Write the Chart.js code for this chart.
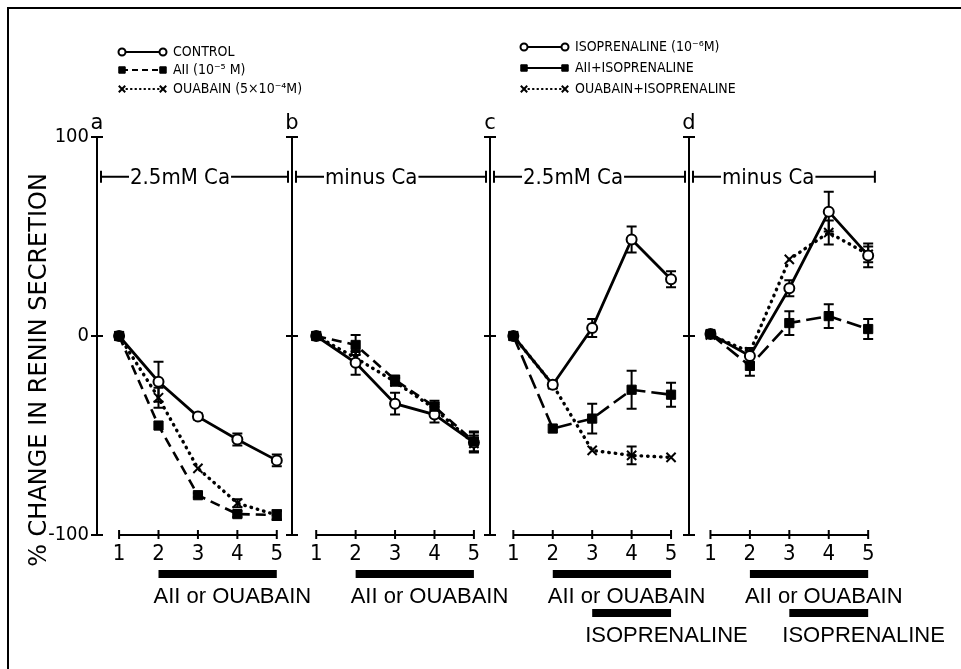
<!DOCTYPE html>
<html><head><meta charset="utf-8">
<script src="https://cdn.jsdelivr.net/npm/chart.js@4"></script>
<style>html,body{margin:0;padding:0;background:#fff;}canvas{display:block;}</style>
</head><body>
<canvas id="c" width="961" height="669"></canvas>
<script>
// ---------- data ----------
const panelLetters = ['a', 'b', 'c', 'd'];
const caLabels = ['2.5mM Ca', 'minus Ca', '2.5mM Ca', 'minus Ca'];
const times = [1, 2, 3, 4, 5];
const yTickValues = [-100, 0, 100];
const yTickLabels = ['-100', '0', '100'];
const treatmentLabel = 'AII or OUABAIN';
const treatmentStart = [2, 2, 2, 2];
const isoLabel = 'ISOPRENALINE';
const isoStart = [null, null, 3, 3];
const treatmentEnd = 5;

// panel a : 2.5 mM Ca
const aControl = [0, -23, -40.5, -52, -62.5];
const aControlErr = [0, 10, 1.5, 3, 3];
const aAII = [0, -45, -80, -89.5, -90];
const aAIIErr = [0, 0, 1, 1.5, 2.5];
const aOuabain = [0, -31, -66.5, -84, -90];
const aOuabainErr = [0, 5, 0, 2, 2.5];
// panel b : minus Ca
const bControl = [0, -13.5, -34, -39.5, -53.5];
const bControlErr = [0, 6, 5.5, 4, 5];
const bAII = [0, -4.5, -22, -35.5, -53];
const bAIIErr = [0, 5, 2, 3, 5];
const bOuabain = [0, -11, -23, -36.5, -54];
const bOuabainErr = [0, 3, 2, 3, 4];
// panel c : 2.5 mM Ca + isoprenaline
const cIso = [0, -24.5, 4, 48.5, 28.5];
const cIsoErr = [0, 1.5, 4.5, 6.5, 4];
const cAIIIso = [0, -46.5, -41.5, -27, -29.5];
const cAIIIsoErr = [0, 0, 7.5, 9.5, 6];
const cOuabIso = [0, -24.5, -57.5, -60, -61];
const cOuabIsoErr = [0, 0, 0, 4.5, 0];
// panel d : minus Ca + isoprenaline
const dIso = [1, -10, 24, 62.5, 40.5];
const dIsoErr = [0, 4, 4, 10, 6];
const dAIIIso = [1, -15, 6.5, 10, 3.5];
const dAIIIsoErr = [0, 5, 6, 6, 5];
const dOuabIso = [0.5, -8, 38.5, 52, 41];
const dOuabIsoErr = [0, 2, 0, 6, 4];

// ---------- styles ----------
const lineStyles = {
  solid: { dash: [], width: 2.8, cap: 'butt' },
  dash: { dash: [10, 6], width: 2.6, cap: 'butt' },
  longdash: { dash: [15, 6], width: 2.6, cap: 'butt' },
  dot: { dash: [0.5, 6], width: 3.4, cap: 'round' }
};
const markerStyles = {
  open: { pointStyle: 'circle', radius: 5, bg: '#fff', bw: 2 },
  square: { pointStyle: 'rect', radius: 6.5, bg: '#000', bw: 1 },
  x: { pointStyle: 'crossRot', radius: 6.5, bg: '#000', bw: 2 }
};

// first series of each panel is drawn on top
const panels = [
  [
    { name: 'AII', values: aAII, err: aAIIErr, line: 'dash', marker: 'square' },
    { name: 'CONTROL', values: aControl, err: aControlErr, line: 'solid', marker: 'open' },
    { name: 'OUABAIN', values: aOuabain, err: aOuabainErr, line: 'dot', marker: 'x' }
  ],
  [
    { name: 'AII', values: bAII, err: bAIIErr, line: 'dash', marker: 'square' },
    { name: 'CONTROL', values: bControl, err: bControlErr, line: 'solid', marker: 'open' },
    { name: 'OUABAIN', values: bOuabain, err: bOuabainErr, line: 'dot', marker: 'x' }
  ],
  [
    { name: 'AII+ISOPRENALINE', values: cAIIIso, err: cAIIIsoErr, line: 'longdash', marker: 'square' },
    { name: 'ISOPRENALINE', values: cIso, err: cIsoErr, line: 'solid', marker: 'open' },
    { name: 'OUABAIN+ISOPRENALINE', values: cOuabIso, err: cOuabIsoErr, line: 'dot', marker: 'x' }
  ],
  [
    { name: 'AII+ISOPRENALINE', values: dAIIIso, err: dAIIIsoErr, line: 'longdash', marker: 'square' },
    { name: 'ISOPRENALINE', values: dIso, err: dIsoErr, line: 'solid', marker: 'open' },
    { name: 'OUABAIN+ISOPRENALINE', values: dOuabIso, err: dOuabIsoErr, line: 'dot', marker: 'x' }
  ]
];

const legendLeft = [
  { text: 'CONTROL', line: 'solid', marker: 'open' },
  { text: 'AII (10⁻⁵ M)', line: 'dash', marker: 'square' },
  { text: 'OUABAIN (5×10⁻⁴M)', line: 'dot', marker: 'x' }
];
const legendRight = [
  { text: 'ISOPRENALINE (10⁻⁶M)', line: 'solid', marker: 'open' },
  { text: 'AII+ISOPRENALINE', line: 'solid', marker: 'square' },
  { text: 'OUABAIN+ISOPRENALINE', line: 'dot', marker: 'x' }
];

// layout constants (x in axis units)
const panelWidth = 5;
const panelAxisX = [0.44, 5.385, 10.41, 15.45];
const lastBarEnd = 20.17;
const caLevel = 80;

const NARROW = "'Liberation Sans Narrow', 'DejaVu Sans Condensed', sans-serif";
const COND = "'DejaVu Sans Condensed', 'Liberation Sans Narrow', sans-serif";

// ---------- datasets ----------
const datasets = [];
panels.forEach((series, p) => {
  series.forEach(s => {
    const ls = lineStyles[s.line], ms = markerStyles[s.marker];
    datasets.push({
      label: s.name + ' ' + panelLetters[p],
      data: times.map((t, i) => ({ x: p * panelWidth + t, y: s.values[i] })),
      err: s.err,
      borderColor: '#000',
      borderWidth: ls.width,
      borderDash: ls.dash,
      borderCapStyle: ls.cap,
      tension: 0,
      fill: false,
      pointStyle: ms.pointStyle,
      pointRadius: ms.radius,
      pointBackgroundColor: ms.bg,
      pointBorderColor: '#000',
      pointBorderWidth: ms.bw,
      clip: false
    });
  });
});

const xTickValues = [];
panels.forEach((_, p) => times.forEach(t => xTickValues.push(p * panelWidth + t)));

function drawMarker(ctx, kind, x, y, scale) {
  const ms = markerStyles[kind];
  ctx.save();
  ctx.fillStyle = ms.bg; ctx.strokeStyle = '#000'; ctx.lineWidth = ms.bw; ctx.setLineDash([]);
  Chart.helpers.drawPoint(ctx, { pointStyle: ms.pointStyle, radius: ms.radius * scale, rotation: 0, borderWidth: ms.bw }, x, y);
  ctx.restore();
}

const decor = {
  id: 'decor',
  beforeDraw(chart) {
    const ctx = chart.ctx;
    ctx.save();
    ctx.fillStyle = '#fff'; ctx.fillRect(0, 0, chart.width, chart.height);
    ctx.strokeStyle = '#000'; ctx.lineWidth = 2;
    ctx.beginPath(); ctx.moveTo(8, 669); ctx.lineTo(8, 8); ctx.lineTo(961, 8); ctx.stroke();
    ctx.restore();
  },
  beforeDatasetsDraw(chart) {
    const { ctx } = chart; const xs = chart.scales.x, ys = chart.scales.y;
    ctx.save();
    ctx.strokeStyle = '#000'; ctx.fillStyle = '#000'; ctx.lineWidth = 2; ctx.setLineDash([]);
    const yTop = ys.getPixelForValue(100), yBot = ys.getPixelForValue(-100);
    panels.forEach((_, p) => {
      const ax = Math.round(xs.getPixelForValue(panelAxisX[p]));
      // vertical axis
      ctx.beginPath(); ctx.moveTo(ax, yTop); ctx.lineTo(ax, yBot); ctx.stroke();
      yTickValues.forEach(v => {
        const py = ys.getPixelForValue(v);
        ctx.beginPath(); ctx.moveTo(ax - 6, py); ctx.lineTo(ax + 6, py); ctx.stroke();
      });
      // horizontal time axis
      const x1 = xs.getPixelForValue(p * panelWidth + times[0]);
      const x5 = xs.getPixelForValue(p * panelWidth + times[times.length - 1]);
      ctx.beginPath(); ctx.moveTo(x1, yBot); ctx.lineTo(x5, yBot); ctx.stroke();
      times.forEach(t => {
        const px = xs.getPixelForValue(p * panelWidth + t);
        ctx.beginPath(); ctx.moveTo(px, yBot - 5); ctx.lineTo(px, yBot + 4); ctx.stroke();
      });
      // Ca bar
      const cy = ys.getPixelForValue(caLevel);
      const sx = ax + 4;
      const ex = p < 3 ? Math.round(xs.getPixelForValue(panelAxisX[p + 1])) - 4 : xs.getPixelForValue(lastBarEnd);
      ctx.font = '22px ' + COND;
      const tw = ctx.measureText(caLabels[p]).width;
      const tx = ax + 33;
      ctx.beginPath();
      ctx.moveTo(sx, cy - 6); ctx.lineTo(sx, cy + 6);
      ctx.moveTo(ex, cy - 6); ctx.lineTo(ex, cy + 6);
      ctx.moveTo(sx, cy); ctx.lineTo(tx - 1, cy);
      ctx.moveTo(tx + tw + 1, cy); ctx.lineTo(ex, cy);
      ctx.stroke();
      ctx.textBaseline = 'middle'; ctx.textAlign = 'left';
      ctx.fillText(caLabels[p], tx, cy + 1);
      // panel letter
      ctx.font = '21px DejaVu Sans'; ctx.textAlign = 'center'; ctx.textBaseline = 'alphabetic';
      ctx.fillText(panelLetters[p], ax, 129);
    });
    // error bars
    chart.data.datasets.forEach((ds, i) => {
      const meta = chart.getDatasetMeta(i);
      ds.err.forEach((e, j) => {
        if (!e) return;
        const pt = meta.data[j];
        const v = ds.data[j].y;
        const yHi = ys.getPixelForValue(v + e), yLo = ys.getPixelForValue(v - e);
        ctx.beginPath();
        ctx.moveTo(pt.x, yHi); ctx.lineTo(pt.x, yLo);
        ctx.moveTo(pt.x - 5, yHi); ctx.lineTo(pt.x + 5, yHi);
        ctx.moveTo(pt.x - 5, yLo); ctx.lineTo(pt.x + 5, yLo);
        ctx.stroke();
      });
    });
    ctx.restore();
  },
  afterDraw(chart) {
    const { ctx } = chart; const xs = chart.scales.x;
    ctx.save();
    ctx.fillStyle = '#000'; ctx.strokeStyle = '#000';
    // treatment bars
    panels.forEach((_, p) => {
      const bx1 = xs.getPixelForValue(p * panelWidth + treatmentStart[p]);
      const bx2 = xs.getPixelForValue(p * panelWidth + treatmentEnd);
      ctx.fillRect(bx1, 570, bx2 - bx1, 8);
      ctx.font = '22px "Liberation Sans", Arial, sans-serif';
      ctx.textAlign = 'left'; ctx.textBaseline = 'alphabetic';
      ctx.fillText(treatmentLabel, bx1 - 5, 603);
      if (isoStart[p] != null) {
        const ix1 = xs.getPixelForValue(p * panelWidth + isoStart[p]);
        ctx.fillRect(ix1, 609, bx2 - ix1, 8);
        ctx.fillText(isoLabel, ix1 - 7, 642);
      }
    });
    // y title
    ctx.save();
    ctx.translate(40, 370); ctx.rotate(-Math.PI / 2);
    ctx.font = '24px DejaVu Sans'; ctx.textAlign = 'center'; ctx.textBaseline = 'middle';
    ctx.fillText('% CHANGE IN RENIN SECRETION', 0, 0);
    ctx.restore();
    // legends
    const drawLegend = (items, lx1, lx2, tx, rows) => {
      items.forEach((it, k) => {
        const yy = rows[k];
        const ls = lineStyles[it.line];
        ctx.save();
        ctx.lineWidth = Math.min(ls.width, 2.2); ctx.setLineDash(it.line === 'dot' ? [0.5, 4] : (it.line === 'solid' ? [] : [6, 4]));
        ctx.lineCap = ls.cap;
        ctx.beginPath(); ctx.moveTo(lx1, yy); ctx.lineTo(lx2, yy); ctx.stroke();
        ctx.restore();
        drawMarker(ctx, it.marker, lx1, yy, 0.7);
        drawMarker(ctx, it.marker, lx2, yy, 0.7);
        ctx.font = '14px ' + COND; ctx.textAlign = 'left'; ctx.textBaseline = 'middle';
        ctx.fillText(it.text, tx, yy);
      });
    };
    drawLegend(legendLeft, 122, 163, 173, [52, 70, 89]);
    drawLegend(legendRight, 524, 565, 575, [47, 68, 89]);
    ctx.restore();
  }
};

new Chart(document.getElementById('c'), {
  type: 'line',
  data: { datasets },
  options: {
    responsive: false,
    animation: false,
    devicePixelRatio: 1,
    events: [],
    layout: { padding: { left: 30, top: 137, right: 81, bottom: 94 } },
    plugins: { legend: { display: false }, tooltip: { enabled: false } },
    scales: {
      x: {
        type: 'linear', min: 0.44, max: 20.3,
        afterBuildTicks: s => { s.ticks = xTickValues.map(v => ({ value: v })); },
        afterFit: s => { s.height = 40; },
        grid: { display: false, drawTicks: false },
        border: { display: false },
        ticks: {
          autoSkip: false, maxRotation: 0, padding: 6, color: '#000',
          font: { family: NARROW, size: 22 },
          callback: v => String(times[(Math.round(v) - 1) % panelWidth])
        }
      },
      y: {
        type: 'linear', min: -100, max: 100,
        afterBuildTicks: s => { s.ticks = yTickValues.map(v => ({ value: v })); },
        afterFit: s => { s.width = 67; },
        grid: { display: false, drawTicks: false },
        border: { display: false },
        ticks: {
          padding: 8, color: '#000',
          font: { family: NARROW, size: 20 },
          callback: v => yTickLabels[yTickValues.indexOf(v)]
        }
      }
    }
  },
  plugins: [decor]
});
</script>
</body></html>
